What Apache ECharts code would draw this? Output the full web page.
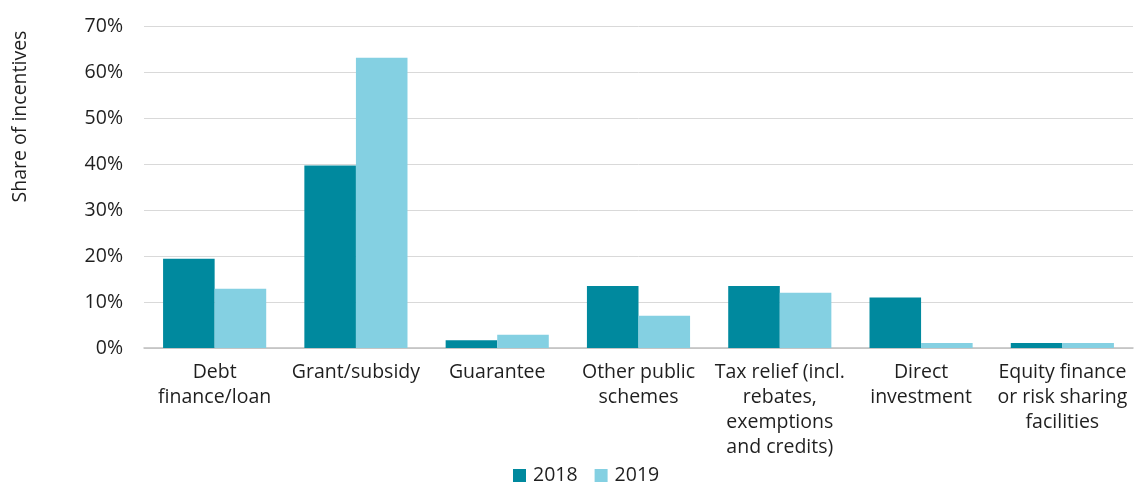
<!DOCTYPE html>
<html>
<head>
<meta charset="utf-8">
<script src="https://cdn.jsdelivr.net/npm/echarts@6/dist/echarts.min.js"></script>
<style>
html,body{margin:0;padding:0;background:#fff;}
#chart{width:1134px;height:482px;}
</style>
</head>
<body>
<div id="chart"></div>
<script>
var categories = [
  "Debt\nfinance/loan",
  "Grant/subsidy",
  "Guarantee",
  "Other public\nschemes",
  "Tax relief (incl.\nrebates,\nexemptions\nand credits)",
  "Direct\ninvestment",
  "Equity finance\nor risk sharing\nfacilities"
];
var seriesNames = ["2018", "2019"];
var values2018 = [19.4, 39.7, 1.7, 13.5, 13.5, 11.0, 1.1];
var values2019 = [12.9, 63.1, 2.9, 7.0, 12.0, 1.1, 1.1];
var yTicks = { min: 0, max: 70, interval: 10 };
var yAxisTitle = "Share of incentives";

var font = "'Open Sans', 'Noto Sans', sans-serif";
var fs = 19.5;
var textColor = "#1f1f1f";
var chart = echarts.init(document.getElementById('chart'));
chart.setOption({
  animation: false,
  backgroundColor: '#ffffff',
  textStyle: { fontFamily: font },
  grid: { left: 144, right: 1, top: 26, bottom: 134, containLabel: false },
  legend: {
    data: seriesNames,
    left: 513,
    top: 465.5,
    padding: 0,
    itemWidth: 13,
    itemHeight: 13,
    itemGap: 17,
    icon: 'rect',
    textStyle: { fontFamily: font, fontSize: fs, lineHeight: 20, color: textColor, padding: [0, 0, 0, 2] }
  },
  graphic: [{
    type: 'text',
    x: 20.5,
    y: 116.5,
    rotation: Math.PI / 2,
    style: {
      text: yAxisTitle,
      fontFamily: font,
      fontSize: fs,
      fill: textColor,
      textAlign: 'center',
      textVerticalAlign: 'middle'
    }
  }],
  xAxis: {
    type: 'category',
    data: categories,
    axisLine: { show: true, lineStyle: { color: '#bfbfbf', width: 1.5 } },
    axisTick: { show: false },
    axisLabel: {
      interval: 0,
      margin: 12,
      fontFamily: font,
      fontSize: fs,
      lineHeight: 25,
      color: textColor,
      align: 'center'
    }
  },
  yAxis: {
    type: 'value',
    min: yTicks.min,
    max: yTicks.max,
    interval: yTicks.interval,
    axisLine: { show: false },
    axisTick: { show: false },
    splitLine: { show: true, lineStyle: { color: '#d9d9d9', width: 1 } },
    axisLabel: {
      formatter: '{value}%',
      margin: 21,
      fontFamily: font,
      fontSize: fs,
      color: textColor
    }
  },
  series: [
    {
      name: seriesNames[0],
      type: 'bar',
      data: values2018,
      barGap: '0%',
      barCategoryGap: '27%',
      itemStyle: { color: '#00899e' }
    },
    {
      name: seriesNames[1],
      type: 'bar',
      data: values2019,
      barGap: '0%',
      barCategoryGap: '27%',
      itemStyle: { color: '#84d0e2' }
    }
  ]
});
</script>
</body>
</html>
